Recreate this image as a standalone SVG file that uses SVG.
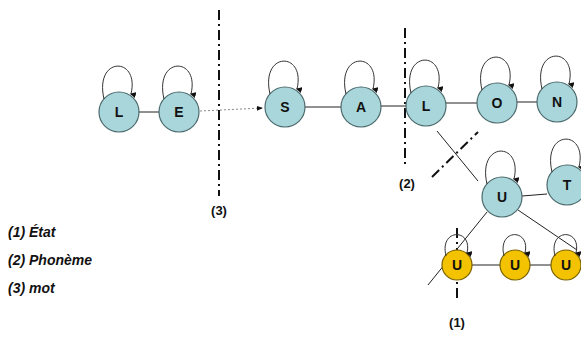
<svg xmlns="http://www.w3.org/2000/svg" width="581" height="356" viewBox="0 0 581 356">
<style>
.n circle{fill:#a9d6da;stroke:#4c6a6d;stroke-width:1.2}
.y circle{fill:#f3c200;stroke:#7a6200;stroke-width:1.2}
.n text,.y text{font-family:"Liberation Sans",Arial,sans-serif;font-weight:bold;font-size:14px;fill:#111;text-anchor:middle}
.loop{fill:none;stroke:#333;stroke-width:1;marker-end:url(#ah)}
.edge{stroke:#222;stroke-width:1;fill:none}
.dd{stroke:#111;stroke-width:2;stroke-dasharray:10 4 2 4;fill:none}
.lbl{font-family:"Liberation Sans",Arial,sans-serif;font-weight:bold;font-size:13px;fill:#111}
.lab{font-family:"Liberation Sans",Arial,sans-serif;font-weight:bold;font-style:italic;font-size:14px;fill:#111}
</style>
<defs>
<marker id="ah" viewBox="0 0 10 10" refX="5" refY="8" markerWidth="6" markerHeight="6" orient="auto-start-reverse" markerUnits="userSpaceOnUse">
<path d="M0,0 L10,0 L5,10 z" fill="#111"/>
</marker>
<marker id="ar" viewBox="0 0 10 10" refX="10" refY="5" markerWidth="6" markerHeight="6" orient="auto" markerUnits="userSpaceOnUse">
<path d="M0,1 L10,5 L0,9 z" fill="#111"/>
</marker>
</defs>
<g id="separators">
<line class="dd" x1="219" y1="10" x2="219" y2="196"/>
<line class="dd" x1="405" y1="28" x2="405" y2="166"/>
<line class="dd" x1="432" y1="177" x2="478" y2="132"/>
<line class="dd" x1="457" y1="228" x2="457" y2="302"/>
</g>
<g id="connectors">
<line class="edge" x1="139" y1="112" x2="159" y2="112" stroke-width="1.6"/>
<line x1="200" y1="111" x2="263" y2="108" stroke="#888" stroke-width="1" stroke-dasharray="2 2" marker-end="url(#ar)"/>
<line class="edge" x1="305" y1="107" x2="341" y2="107"/>
<line class="edge" x1="381" y1="106" x2="406" y2="106"/>
<line class="edge" x1="446" y1="103" x2="477" y2="103"/>
<line class="edge" x1="517" y1="102" x2="537" y2="102"/>
<line class="edge" x1="437" y1="131" x2="478" y2="181"/>
<line class="edge" x1="522" y1="196" x2="547" y2="194"/>
<line class="edge" x1="487" y1="212" x2="428" y2="285"/>
<line class="edge" x1="518" y1="210" x2="577" y2="250"/>
<line class="edge" x1="472" y1="265" x2="500" y2="265"/>
<line class="edge" x1="530" y1="265" x2="551" y2="265"/>
</g>
<g id="n-L1" class="n"><circle cx="119" cy="112" r="20"/><path class="loop" d="M104,99 C94,56 140,56 131,94"/><text x="119" y="117">L</text></g>
<g id="n-E" class="n"><circle cx="179" cy="112" r="20"/><path class="loop" d="M164,99 C154,56 200,56 191,94"/><text x="179" y="117">E</text></g>
<g id="n-S" class="n"><circle cx="285" cy="107" r="20"/><path class="loop" d="M270,94 C260,51 306,51 297,89"/><text x="285" y="112">S</text></g>
<g id="n-A" class="n"><circle cx="361" cy="107" r="20"/><path class="loop" d="M346,94 C336,51 382,51 373,89"/><text x="361" y="112">A</text></g>
<g id="n-L2" class="n"><circle cx="426" cy="106" r="20"/><path class="loop" d="M411,93 C401,50 447,50 438,88"/><text x="426" y="111">L</text></g>
<g id="n-O" class="n"><circle cx="497" cy="103" r="20"/><path class="loop" d="M482,90 C472,47 518,47 509,85"/><text x="497" y="108">O</text></g>
<g id="n-N" class="n"><circle cx="557" cy="102" r="20"/><path class="loop" d="M542,89 C532,46 578,46 569,84"/><text x="557" y="107">N</text></g>
<g id="n-U" class="n"><circle cx="502" cy="197" r="20"/><path class="loop" d="M487,184 C477,141 523,141 514,179"/><text x="502" y="202">U</text></g>
<g id="n-T" class="n"><circle cx="567" cy="185" r="20"/><path class="loop" d="M552,172 C542,129 588,129 579,167"/><text x="567" y="190">T</text></g>
<g id="n-U1" class="y"><circle cx="457" cy="265" r="15"/><path class="loop" d="M446,256 C439,228 473,228 467,253"/><text x="457" y="270">U</text></g>
<g id="n-U2" class="y"><circle cx="515" cy="265" r="15"/><path class="loop" d="M504,256 C497,228 531,228 525,253"/><text x="515" y="270">U</text></g>
<g id="n-U3" class="y"><circle cx="566" cy="265" r="15"/><path class="loop" d="M555,256 C548,228 582,228 576,253"/><text x="566" y="270">U</text></g>
<g id="labels">
<text class="lbl" x="219" y="215" text-anchor="middle">(3)</text>
<text class="lbl" x="407" y="188" text-anchor="middle">(2)</text>
<text class="lbl" x="457" y="327" text-anchor="middle">(1)</text>
<text class="lab" x="8" y="237">(1) État</text>
<text class="lab" x="8" y="265">(2) Phonème</text>
<text class="lab" x="8" y="293">(3) mot</text>
</g>
</svg>
